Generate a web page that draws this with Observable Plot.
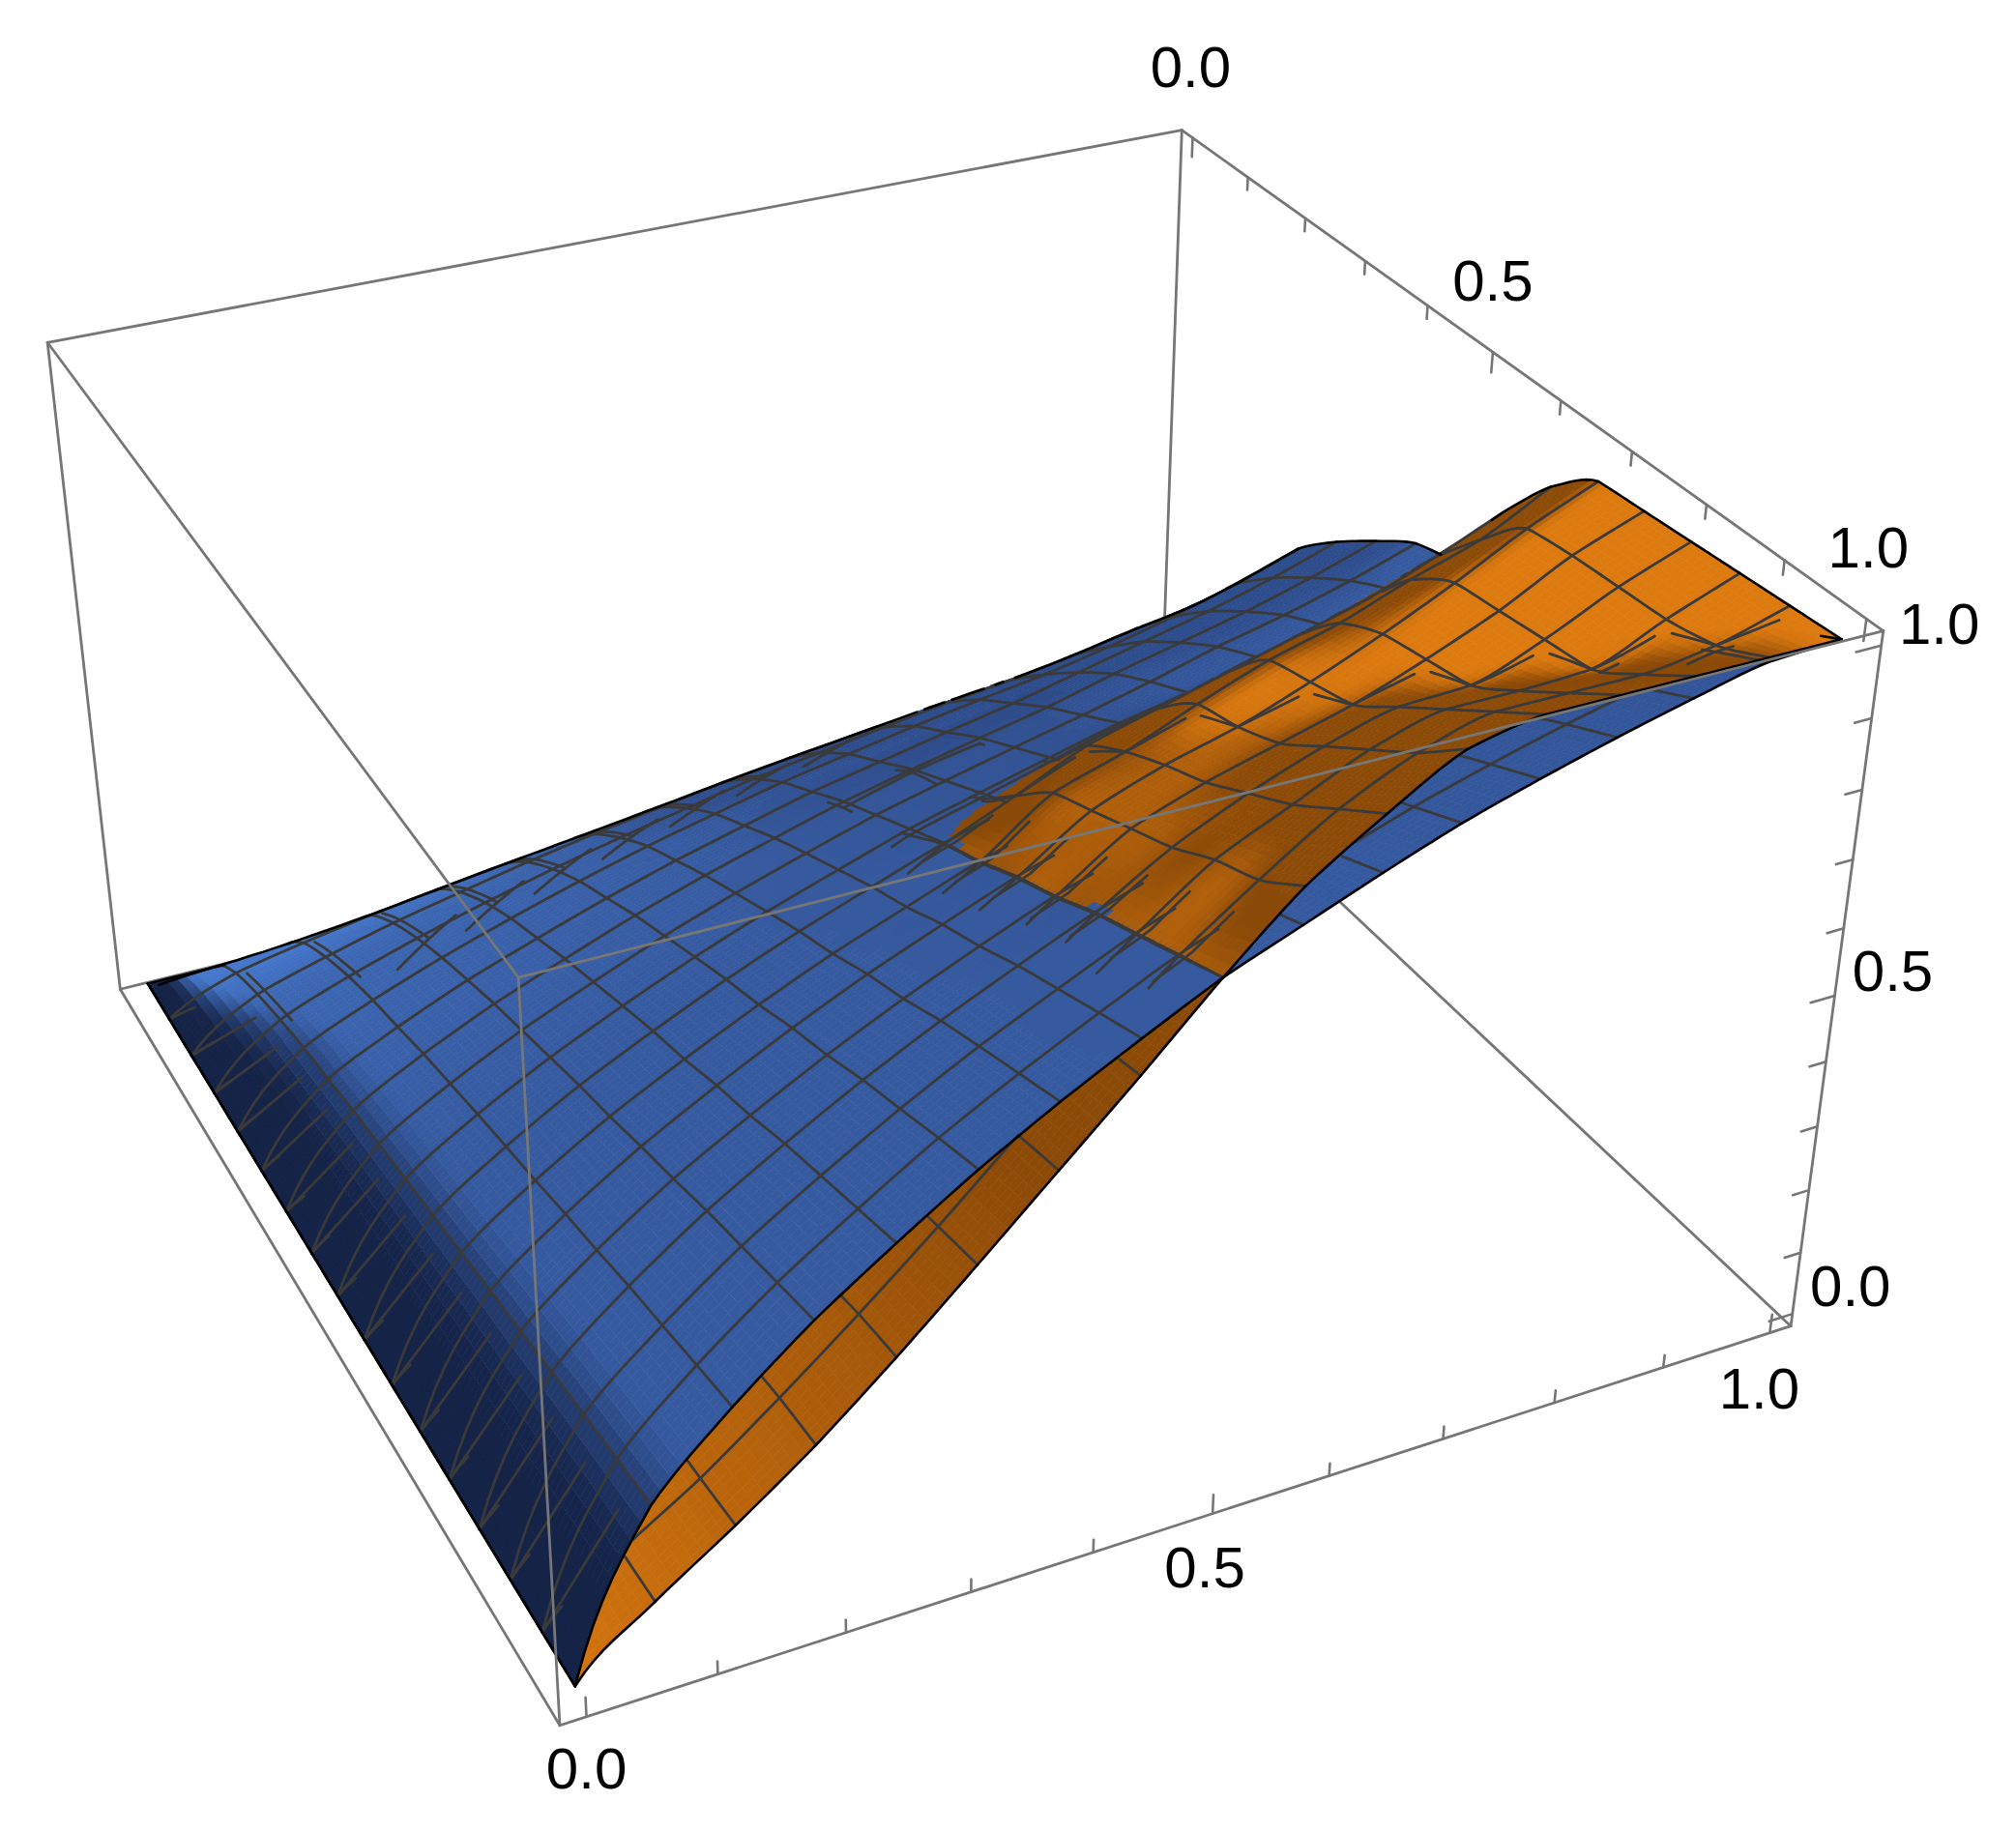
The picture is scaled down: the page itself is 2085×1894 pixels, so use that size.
<!DOCTYPE html>
<html><head><meta charset="utf-8">
<script src="https://cdn.jsdelivr.net/npm/d3@7"></script>
<script src="https://cdn.jsdelivr.net/npm/@observablehq/plot@0.6"></script>
<style>html,body{margin:0;padding:0;background:#fff}</style></head>
<body><div id="chart"></div>
<script>
// Surface heights: rows are y = j/16, columns are x = k/16
const blueZ = [
[0,0,0,0,0,0,0,0,0,0,0,0,0,0,0,0,0],
[0,.05,.073,.092,.108,.123,.136,.148,.16,.169,.178,.187,.194,.20,.206,.211,.212],
[0,.075,.109,.138,.162,.185,.205,.223,.24,.254,.267,.28,.291,.30,.315,.33,.35],
[0,.094,.137,.172,.203,.231,.256,.278,.30,.317,.334,.35,.363,.38,.40,.415,.43],
[0,.11,.159,.20,.236,.269,.299,.325,.35,.37,.39,.408,.424,.445,.47,.50,.535],
[0,.122,.177,.224,.263,.30,.333,.362,.39,.412,.434,.455,.48,.505,.53,.56,.595],
[0,.135,.196,.247,.29,.331,.367,.399,.43,.455,.479,.502,.53,.555,.58,.61,.645],
[0,.146,.212,.267,.314,.358,.397,.432,.465,.492,.518,.543,.57,.60,.625,.655,.69],
[0,.157,.228,.287,.338,.385,.427,.464,.50,.529,.557,.584,.606,.636,.66,.69,.71],
[0,.167,.243,.307,.361,.411,.456,.496,.535,.565,.596,.624,.648,.669,.688,.705,.73],
[0,.177,.257,.324,.381,.434,.482,.524,.565,.597,.629,.659,.684,.707,.727,.745,.75],
[0,.188,.273,.344,.405,.461,.512,.557,.60,.634,.668,.70,.727,.751,.772,.791,.80],
[0,.197,.287,.362,.425,.484,.537,.585,.63,.666,.702,.735,.763,.788,.81,.83,.835],
[0,.208,.303,.382,.449,.511,.567,.617,.665,.703,.741,.776,.805,.832,.855,.876,.882],
[0,.218,.316,.399,.469,.534,.593,.645,.695,.735,.774,.811,.842,.869,.894,.916,.922],
[0,.227,.33,.416,.489,.558,.618,.673,.725,.766,.808,.846,.878,.907,.932,.956,.961],
[0,.236,.343,.433,.509,.58,.643,.70,.754,.797,.84,.88,.913,.943,.97,.994,1]
];
const orangeZ = [
[0,0,0,0,0,0,0,0,0,0,0,0,0,0,0,0,0],
[0,.02,.04,.06,.08,.09,.10,.11,.12,.13,.14,.15,.16,.17,.18,.19,.20],
[0,.03,.05,.07,.10,.13,.15,.17,.19,.21,.23,.25,.27,.28,.29,.30,.31],
[0,.04,.07,.09,.12,.16,.20,.24,.27,.29,.31,.33,.35,.36,.37,.38,.38],
[0,.05,.08,.11,.15,.20,.24,.29,.33,.35,.37,.39,.41,.42,.43,.44,.45],
[0,.05,.09,.13,.18,.23,.28,.33,.38,.40,.42,.44,.46,.47,.48,.49,.50],
[0,.05,.10,.15,.21,.27,.33,.38,.42,.45,.47,.48,.50,.52,.53,.54,.55],
[0,.06,.11,.165,.23,.29,.36,.41,.45,.48,.50,.52,.54,.56,.58,.60,.63],
[0,.06,.12,.18,.245,.315,.39,.44,.49,.52,.55,.58,.60,.63,.665,.70,.735],
[0,.065,.125,.19,.26,.335,.41,.47,.533,.58,.63,.66,.69,.72,.75,.79,.835],
[0,.07,.13,.20,.27,.355,.43,.50,.563,.64,.675,.72,.76,.79,.83,.865,.92],
[0,.075,.14,.21,.285,.37,.45,.53,.598,.67,.71,.74,.78,.825,.875,.93,.975],
[0,.08,.145,.22,.30,.385,.47,.55,.628,.70,.74,.77,.80,.84,.885,.94,.98],
[0,.08,.15,.225,.31,.40,.49,.58,.663,.73,.78,.82,.85,.855,.895,.945,.985],
[0,.085,.155,.235,.32,.415,.51,.61,.693,.77,.82,.87,.90,.90,.905,.95,.99],
[0,.087,.16,.245,.335,.43,.53,.63,.723,.80,.87,.92,.95,.95,.95,.965,.995],
[0,.09,.167,.25,.344,.444,.546,.648,.754,.85,.92,.98,1,1,1,1,1]
];
const minorTicks = [0,.1,.2,.3,.4,.5,.6,.7,.8,.9,1];
const tickLabels = [0,.5,1];
const xLabelShift = [0,-8,-11];
const xLabelDrop = [55,57,59];
const pad = .02;
// Box corners as they appear in the picture: [x, y, z, screenX, screenY]
const boxCorners = [
[0,0,0,123.7,1021],[0,1,0,577,1784.5],[1,1,0,1852,1369.6],[1,0,0,1200.7,760.6],
[0,0,1,49,353.7],[0,1,1,537,1013],[1,1,1,1947,651.5],[1,0,1,1220.7,133]
];
const W = 2085, H = 1894;

function fitCamera() {
  const A = [], b = [];
  for (const [cx,cy,cz,X,Y] of boxCorners) {
    const x = cx ? 1+pad : -pad, y = cy ? 1+pad : -pad, z = cz ? 1+pad : -pad;
    A.push([x,y,z,1,0,0,0,0,-X*x,-X*y,-X*z]); b.push(X);
    A.push([0,0,0,0,x,y,z,1,-Y*x,-Y*y,-Y*z]); b.push(Y);
  }
  const n = 11, M = Array.from({length:n},(_,r)=>{
    const row = new Array(n+1).fill(0);
    for (let c=0;c<n;c++) for (let i=0;i<A.length;i++) row[c]+=A[i][r]*A[i][c];
    for (let i=0;i<A.length;i++) row[n]+=A[i][r]*b[i];
    return row;
  });
  for (let c=0;c<n;c++){
    let p=c; for(let r=c+1;r<n;r++) if(Math.abs(M[r][c])>Math.abs(M[p][c])) p=r;
    [M[c],M[p]]=[M[p],M[c]];
    for(let r=0;r<n;r++) if(r!==c){const f=M[r][c]/M[c][c]; for(let k=c;k<=n;k++) M[r][k]-=f*M[c][k];}
  }
  return M.map((r,i)=>r[n]/r[i]);
}
const C = fitCamera();
function proj(x,y,z){
  const w = C[8]*x+C[9]*y+C[10]*z+1;
  return [(C[0]*x+C[1]*y+C[2]*z+C[3])/w,(C[4]*x+C[5]*y+C[6]*z+C[7])/w,w];
}
const wNear = proj(-pad,1+pad,1+pad)[2], wFar = proj(1+pad,-pad,-pad)[2];
const depthSign = wFar>wNear?1:-1, depthRange = Math.abs(wFar-wNear);

// rendering refinement of each table cell
const SUB = 8, N = 16*SUB;
const harm=(a,b)=>a*b<=0?0:2*a*b/(a+b);
function mono(p0,p1,p2,p3,t){
  const d=p2-p1,m1=harm(p1-p0,d),m2=harm(d,p3-p2),t2=t*t,t3=t2*t;
  return (2*t3-3*t2+1)*p1+(t3-2*t2+t)*m1+(-2*t3+3*t2)*p2+(t3-t2)*m2;
}
const blend=(p0,p1,p2,p3,t)=>.35*(p1+(p2-p1)*t)+.65*mono(p0,p1,p2,p3,t);
function refine(T){
  const at=(j,k)=>{
    if(k<0) return at(j,0)-1000*(at(j,1)-at(j,0));
    if(k>16) return 2*at(j,16)-at(j,32-k);
    if(j<0) return at(0,k)-1000*(at(1,k)-at(0,k));
    if(j>16) return 2*at(16,k)-at(32-j,k);
    return T[j][k];
  };
  const out=[];
  for(let fj=0;fj<=N;fj++){
    const row=[]; const j=Math.min(15,Math.floor(fj/SUB)), tj=fj/SUB-j;
    for(let fk=0;fk<=N;fk++){
      const k=Math.min(15,Math.floor(fk/SUB)), tk=fk/SUB-k;
      const rows=[-1,0,1,2].map(d=>blend(at(j+d,k-1),at(j+d,k),at(j+d,k+1),at(j+d,k+2),tk));
      row.push(blend(rows[0],rows[1],rows[2],rows[3],tj));
    }
    out.push(row);
  }
  return out;
}
const smooth=(v,a,b)=>{const t=Math.max(0,Math.min(1,(v-a)/(b-a)));return t*t*(3-2*t);};
const mix=(a,b,t)=>a.map((v,i)=>v+(b[i]-v)*t);
const css=c=>`rgb(${c.map(v=>Math.round(v)).join(",")})`;
function blueColor(x,y,zx,zy){
  let c=[54,90,160];
  c=mix(c,[60,102,178],(1-smooth(y,.1,.6))*(1-smooth(x,.1,.6)));
  c=mix(c,[45,76,140],smooth(zy,.45,.8)*smooth(x,.3,.5));
  c=mix(c,[70,122,208],(1-smooth(y,.02,.18))*(1-smooth(x,.15,.4)));
  const w=.4+.6*smooth(y,0,.3);
  const d=1-smooth(x,.03*w,.095*w);
  c=mix(c,[20,35,72],d);
  return css(c);
}
function orangeColor(x,y,zx,zy){
  let t=smooth(Math.abs(zy),.22,.7);
  if(x<.5) t=Math.max(t,Math.min(1,.12+x*2.4));
  return css(mix([221,122,15],[140,74,7],t));
}
function blur(A){
  const n=A.length,out=A.map(r=>r.slice()),R=3;
  for(let j=0;j<n;j++)for(let k=0;k<n;k++){
    let s=0,c=0;
    for(let a=Math.max(0,j-R);a<=Math.min(n-1,j+R);a++)for(let b=Math.max(0,k-R);b<=Math.min(n-1,k+R);b++){s+=A[a][b];c++;}
    out[j][k]=s/c;
  }
  return out;
}
const surfaces=[{Z:refine(blueZ),col:blueColor,name:"b"},{Z:refine(orangeZ),col:orangeColor,name:"o"}];

const facets=[];
for(const s of surfaces){
  const Z=s.Z; s.P=Z.map((row,fj)=>row.map((z,fk)=>proj(fk/N,fj/N,z)));
  const ZX=[],ZY=[];
  for(let fj=0;fj<N;fj++){ZX.push([]);ZY.push([]);for(let fk=0;fk<N;fk++){
    ZX[fj].push(((Z[fj][fk+1]-Z[fj][fk])+(Z[fj+1][fk+1]-Z[fj+1][fk]))*N/2);
    ZY[fj].push(((Z[fj+1][fk]-Z[fj][fk])+(Z[fj+1][fk+1]-Z[fj][fk+1]))*N/2);
  }}
  const BX=blur(ZX),BY=blur(ZY);
  for(let fj=0;fj<N;fj++)for(let fk=0;fk<N;fk++){
    const a=s.P[fj][fk],b=s.P[fj][fk+1],c=s.P[fj+1][fk+1],d=s.P[fj+1][fk];
    facets.push({pts:[a,b,c,d],depth:depthSign*(a[2]+b[2]+c[2]+d[2])/4,
      color:s.col((fk+.5)/N,(fj+.5)/N,BX[fj][fk],BY[fj][fk])});
  }
}
facets.sort((p,q)=>q.depth-p.depth);

const zbuf=new Float32Array(W*H).fill(Infinity);
function tri(a,b,c){
  const minX=Math.max(0,Math.floor(Math.min(a[0],b[0],c[0]))),maxX=Math.min(W-1,Math.ceil(Math.max(a[0],b[0],c[0])));
  const minY=Math.max(0,Math.floor(Math.min(a[1],b[1],c[1]))),maxY=Math.min(H-1,Math.ceil(Math.max(a[1],b[1],c[1])));
  const den=(b[1]-c[1])*(a[0]-c[0])+(c[0]-b[0])*(a[1]-c[1]); if(Math.abs(den)<1e-6) return;
  for(let py=minY;py<=maxY;py++)for(let px=minX;px<=maxX;px++){
    const u=((b[1]-c[1])*(px-c[0])+(c[0]-b[0])*(py-c[1]))/den;
    const v=((c[1]-a[1])*(px-c[0])+(a[0]-c[0])*(py-c[1]))/den;
    const t=1-u-v; if(u<-.05||v<-.05||t<-.05) continue;
    const d=depthSign*(u*a[2]+v*b[2]+t*c[2]); const i=py*W+px;
    if(d<zbuf[i]) zbuf[i]=d;
  }
}
for(const f of facets){tri(f.pts[0],f.pts[1],f.pts[2]);tri(f.pts[0],f.pts[2],f.pts[3]);}
const tol=.012*depthRange;
function visible(p,t=tol){
  const x=Math.round(p[0]),y=Math.round(p[1]);
  if(x<0||y<0||x>=W||y>=H) return false;
  return depthSign*p[2]<=zbuf[y*W+x]+t;
}
// facets entirely behind others need not be drawn
const shown=facets.filter(f=>f.pts.some(p=>visible(p,.03*depthRange)));

const polyRows=[];
shown.forEach((f,i)=>{for(const p of f.pts) polyRows.push({px:p[0],py:p[1],id:i,c:f.color});});
const meshRows=[],edgeRows=[]; let lid=0;
function addPolyline(pts,rows){
  let open=false;
  for(let i=0;i<pts.length;i++){
    const vis=i+1<pts.length?visible([(pts[i][0]+pts[i+1][0])/2,(pts[i][1]+pts[i+1][1])/2,(pts[i][2]+pts[i+1][2])/2]):open;
    if(vis){ if(!open){lid++;open=true;} rows.push({px:pts[i][0],py:pts[i][1],id:lid}); }
    else if(open){ rows.push({px:pts[i][0],py:pts[i][1],id:lid}); open=false; }
  }
}
for(const s of surfaces){
  for(let k=1;k<16;k++){
    addPolyline(s.P.map(r=>r[k*SUB]),meshRows);
    addPolyline(s.P[k*SUB],meshRows);
  }
  addPolyline(s.P.map(r=>r[0]),edgeRows);
  addPolyline(s.P.map(r=>r[N]),edgeRows);
  addPolyline(s.P[N],edgeRows);
}
{
  const s=surfaces[0],fold=[];
  for(let fk=1;fk<=N;fk++){
    let best=null,bv=Infinity;
    for(let fj=1;fj<=N;fj++){const p=s.P[fj][fk],v=p[1]+.35*p[0]; if(v<bv){bv=v;best=p;}}
    fold.push(best);
  }
  addPolyline(fold,edgeRows);
  addPolyline(s.P[0],edgeRows);
}
// short doubled strokes the plotter left along the surface creases
function sampleZ(s,kv,jv){
  const fk=Math.max(0,Math.min(N-1e-6,kv*SUB)),fj=Math.max(0,Math.min(N-1e-6,jv*SUB));
  const a=Math.floor(fk),b=Math.floor(fj),u=fk-a,v=fj-b,Z=s.Z;
  return (1-v)*((1-u)*Z[b][a]+u*Z[b][a+1])+v*((1-u)*Z[b+1][a]+u*Z[b+1][a+1]);
}
function barb(k0,j0,k1,j1,n=6){
  const pts=[];
  for(let i=0;i<=n;i++){
    const kv=k0+(k1-k0)*i/n,jv=j0+(j1-j0)*i/n;
    const z=Math.max(sampleZ(surfaces[0],kv,jv),sampleZ(surfaces[1],kv,jv));
    pts.push(proj(kv/16,jv/16,z));
  }
  addPolyline(pts,meshRows);
}
for(let j=2;j<16;j++) barb(0,j,.8,j+.5,1);
for(let k=1;k<9;k++){barb(k+.1,1.2,k+.1,3.2);}
for(let k=2;k<9;k++){barb(k+.5,3.6,k+1.6,2.9);}
for(let j=9;j<16;j++) barb(7.6,j+.15,8.6,j+.15);
for(let k=9;k<16;k++){barb(k,k,k+.75,k+.15);barb(k,k,k-.12,k-.7);}

const corner=(i,j,k)=>[i?1+pad:-pad,j?1+pad:-pad,k?1+pad:-pad];
const seg=(a,b,id)=>{const p=proj(...a),q=proj(...b);return [{px:p[0],py:p[1],id},{px:q[0],py:q[1],id}];};
const edgesBack=[[[0,0,0],[1,0,0]],[[1,0,0],[1,1,0]],[[1,0,0],[1,0,1]]];
const edgesFront=[[[0,0,0],[0,1,0]],[[0,1,0],[1,1,0]],[[0,0,0],[0,0,1]],[[0,1,0],[0,1,1]],[[1,1,0],[1,1,1]],
 [[0,0,1],[1,0,1]],[[1,0,1],[1,1,1]],[[1,1,1],[0,1,1]],[[0,1,1],[0,0,1]]];
const backRows=edgesBack.flatMap((e,i)=>seg(corner(...e[0]),corner(...e[1]),"b"+i));
const frontRows=edgesFront.flatMap((e,i)=>seg(corner(...e[0]),corner(...e[1]),"f"+i));
const tickRows=[];
minorTicks.forEach((v,i)=>{
  const major=i%5===0;
  tickRows.push(...seg([v,1+pad,-pad],[v,1+pad,-pad+(major?.03:.02)],"x"+i));
  tickRows.push(...seg([1+pad,v,1+pad],[1+pad,v,1+pad-(major?.03:.02)],"y"+i));
  tickRows.push(...seg([1+pad,1+pad,v],[1+pad-(major?.022:.015),1+pad,v],"z"+i));
});
const labels=[];
tickLabels.forEach((v,i)=>{
  let p=proj(v,1+pad,-pad); labels.push({px:p[0]+xLabelShift[i],py:p[1]+xLabelDrop[i],t:v.toFixed(1)});
  p=proj(1+pad,v,1+pad); labels.push({px:p[0]-2+4*v,py:p[1]-72,t:v.toFixed(1)});
  p=proj(1+pad,1+pad,v); labels.push({px:p[0]+60,py:p[1]-27+6*v,t:v.toFixed(1)});
});
const boxColor="#767676";
const chart=Plot.plot({
  width:W,height:H,margin:0,
  x:{domain:[0,W],axis:null},y:{domain:[H,0],axis:null},
  color:{type:"identity"},
  style:{background:"#fff"},
  marks:[
    Plot.line(backRows,{x:"px",y:"py",z:"id",stroke:boxColor,strokeWidth:2.8}),
    Plot.line(polyRows,{x:"px",y:"py",z:"id",fill:"c",stroke:"c",strokeWidth:.7,curve:"linear-closed"}),
    Plot.line(meshRows,{x:"px",y:"py",z:"id",stroke:"#3a3a3a",strokeWidth:2.8}),
    Plot.line(edgeRows,{x:"px",y:"py",z:"id",stroke:"#000",strokeWidth:2.6}),
    Plot.line(frontRows,{x:"px",y:"py",z:"id",stroke:boxColor,strokeWidth:2.8}),
    Plot.line(tickRows,{x:"px",y:"py",z:"id",stroke:boxColor,strokeWidth:2.6}),
    Plot.text(labels,{x:"px",y:"py",text:"t",fontSize:60,fill:"#000",fontFamily:"Liberation Sans",textAnchor:"middle",lineAnchor:"middle"})
  ]
});
document.getElementById("chart").appendChild(chart);
</script></body></html>
